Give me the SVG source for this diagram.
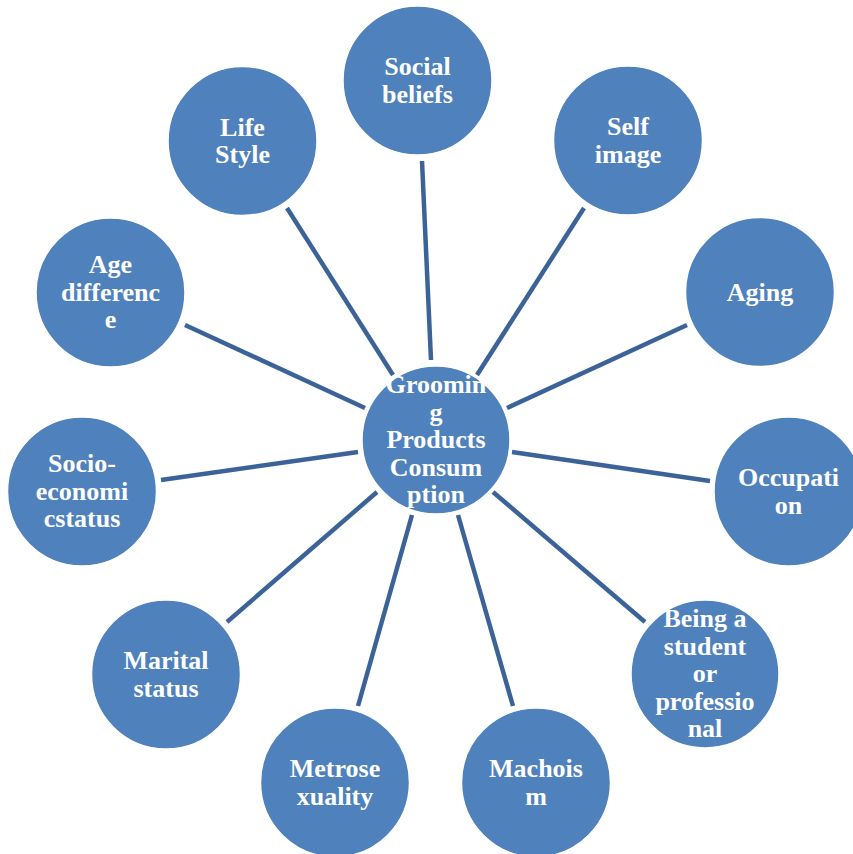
<svg xmlns="http://www.w3.org/2000/svg" width="853" height="854" viewBox="0 0 853 854">
  <style>
    .bubble { fill: #4f81bd; stroke: #ffffff; stroke-width: 1.5; }
    .label { font-family: "Liberation Serif", "Times New Roman", serif; font-weight: bold; font-size: 26px; fill: #ffffff; text-anchor: middle; }
    .link { stroke: #3c6398; stroke-width: 4.5; stroke-linecap: butt; fill: none; }
  </style>
  <rect width="853" height="854" fill="#ffffff"/>

  <!-- spokes from the hub to each factor -->
  <g id="connectors">
    <line class="link" x1="422" y1="161" x2="431" y2="360"/>
    <line class="link" x1="584" y1="208" x2="477" y2="375"/>
    <line class="link" x1="287" y1="208" x2="393" y2="375"/>
    <line class="link" x1="687" y1="325" x2="507" y2="408"/>
    <line class="link" x1="185" y1="325" x2="365" y2="408"/>
    <line class="link" x1="710" y1="481" x2="512" y2="452"/>
    <line class="link" x1="161" y1="480" x2="358" y2="452"/>
    <line class="link" x1="645" y1="622" x2="493" y2="492"/>
    <line class="link" x1="227" y1="622" x2="377" y2="492"/>
    <line class="link" x1="513" y1="706" x2="458" y2="515"/>
    <line class="link" x1="358" y1="706" x2="412" y2="515"/>
  </g>

  <g id="hub">
    <circle class="bubble" cx="436" cy="440" r="74"/>
    <text class="label" x="436" y="393">Groomin</text>
    <text class="label" x="436" y="421">g</text>
    <text class="label" x="436" y="448">Products</text>
    <text class="label" x="436" y="476">Consum</text>
    <text class="label" x="436" y="503">ption</text>
  </g>

  <g id="social-beliefs">
    <circle class="bubble" cx="417.5" cy="80.5" r="74.5"/>
    <text class="label" x="417.5" y="75">Social</text>
    <text class="label" x="417.5" y="102.5">beliefs</text>
  </g>

  <g id="self-image">
    <circle class="bubble" cx="628" cy="140.5" r="74.5"/>
    <text class="label" x="628" y="135">Self</text>
    <text class="label" x="628" y="162.5">image</text>
  </g>

  <g id="life-style">
    <circle class="bubble" cx="242.5" cy="141" r="74.5"/>
    <text class="label" x="242.5" y="135.5">Life</text>
    <text class="label" x="242.5" y="163">Style</text>
  </g>

  <g id="aging">
    <circle class="bubble" cx="760" cy="292" r="74.5"/>
    <text class="label" x="760" y="301">Aging</text>
  </g>

  <g id="age-difference">
    <circle class="bubble" cx="110.5" cy="292.5" r="74.5"/>
    <text class="label" x="110.5" y="273">Age</text>
    <text class="label" x="110.5" y="300.5">differenc</text>
    <text class="label" x="110.5" y="328">e</text>
  </g>

  <g id="occupation">
    <circle class="bubble" cx="788.5" cy="491.5" r="74.5"/>
    <text class="label" x="788.5" y="486">Occupati</text>
    <text class="label" x="788.5" y="513.5">on</text>
  </g>

  <g id="socio-economic-status">
    <circle class="bubble" cx="82" cy="491.5" r="74.5"/>
    <text class="label" x="82" y="472">Socio-</text>
    <text class="label" x="82" y="499.5">economi</text>
    <text class="label" x="82" y="527">cstatus</text>
  </g>

  <g id="student-or-professional">
    <circle class="bubble" cx="705" cy="674" r="74"/>
    <text class="label" x="705" y="627">Being a</text>
    <text class="label" x="705" y="654.5">student</text>
    <text class="label" x="705" y="682">or</text>
    <text class="label" x="705" y="709.5">professio</text>
    <text class="label" x="705" y="737">nal</text>
  </g>

  <g id="marital-status">
    <circle class="bubble" cx="166" cy="674.5" r="74.5"/>
    <text class="label" x="166" y="669">Marital</text>
    <text class="label" x="166" y="696.5">status</text>
  </g>

  <g id="machoism">
    <circle class="bubble" cx="536" cy="782.5" r="74.5"/>
    <text class="label" x="536" y="777">Machois</text>
    <text class="label" x="536" y="804.5">m</text>
  </g>

  <g id="metrosexuality">
    <circle class="bubble" cx="335" cy="782.5" r="74.5"/>
    <text class="label" x="335" y="777">Metrose</text>
    <text class="label" x="335" y="804.5">xuality</text>
  </g>
</svg>
